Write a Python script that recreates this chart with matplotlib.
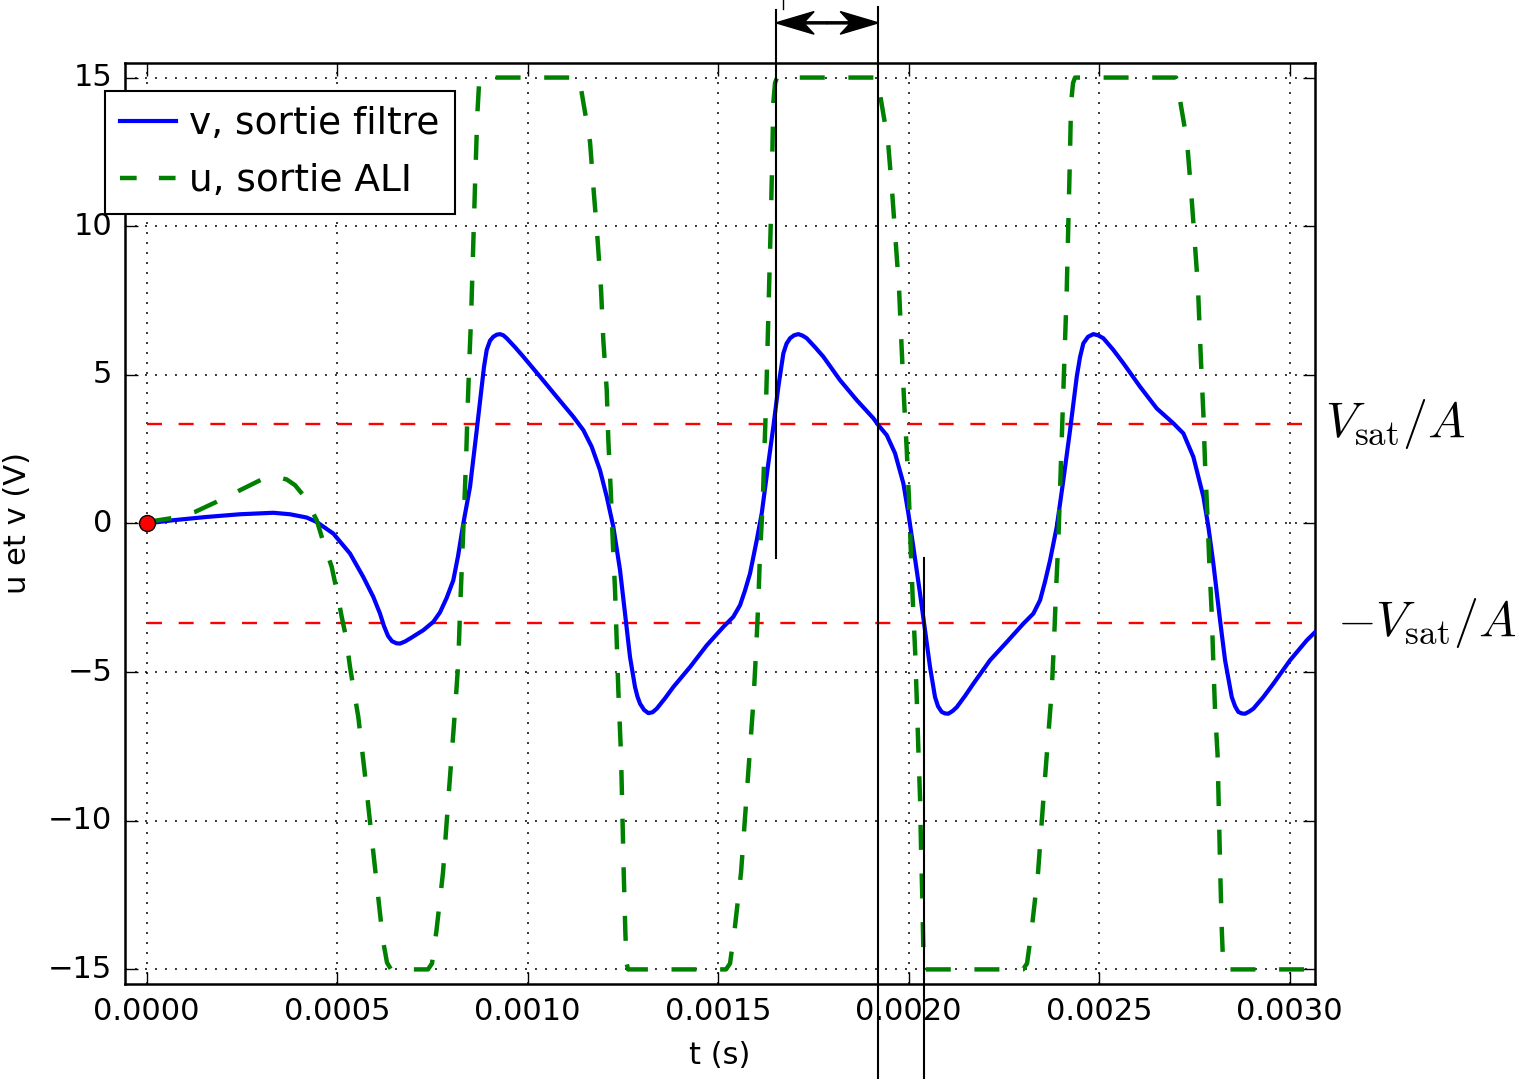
import numpy as np
import matplotlib
matplotlib.use('Agg')
import matplotlib.pyplot as plt
import matplotlib.patches as mpatches
from matplotlib.lines import Line2D

plt.style.use('classic')
plt.rcParams['font.family'] = ['DejaVu Sans']
plt.rcParams['mathtext.fontset'] = 'cm'

# v, sortie filtre : temps en microsecondes, tension en V
t_v_us = [0, 69.8, 157.5, 244.9, 332.3, 376.1, 420.0, 446.2, 489.8, 533.6, 568.5, 594.8,
          612.3, 622.8, 633.3, 643.8, 655.6, 664.8, 678.0, 691.1, 726.0, 752.2, 769.8, 787.4,
          804.7, 817.1, 831.0, 848.6, 866.2, 879.3, 885.3, 892.4, 901.1, 909.7, 918.6, 927.3,
          936.0, 944.9, 966.7, 988.5, 1032.3, 1076.1, 1119.7, 1146.0, 1168.0, 1189.8, 1207.4, 1224.7,
          1242.3, 1255.4, 1268.5, 1281.6, 1288.2, 1294.8, 1305.3, 1316.6, 1327.6, 1338.6, 1360.4, 1382.2,
          1426.0, 1469.8, 1513.4, 1539.6, 1557.2, 1570.4,
          1583.5, 1601.1, 1614.2, 1631.5, 1644.6, 1657.8, 1670.9, 1679.3, 1688.5, 1699.0, 1710.3, 1721.3,
          1732.3, 1754.1, 1775.9, 1819.7, 1863.5, 1907.1, 1920.2, 1942.3, 1964.1, 1985.9, 1999.0, 2012.1,
          2029.7, 2042.8, 2055.9, 2069.0, 2076.9, 2086.6, 2095.3, 2103.9, 2115.0, 2126.0, 2147.8, 2169.6,
          2213.4, 2257.2, 2300.8, 2327.1, 2344.7, 2357.8,
          2370.9, 2388.5, 2405.8, 2423.4, 2441.0, 2449.6, 2458.3, 2470.6, 2484.5, 2496.9, 2510.8, 2536.2,
          2563.3, 2607.1, 2650.9, 2694.5, 2720.8, 2747.0, 2773.3, 2786.4, 2799.5, 2817.1, 2830.2, 2847.8,
          2856.5, 2865.1, 2874.0, 2882.7, 2893.2, 2904.5, 2929.9, 2957.0, 3000.8, 3044.7, 3079.6]
v = [0, 0.11, 0.22, 0.31, 0.36, 0.31, 0.20, 0.05, -0.34, -1.01, -1.80, -2.47,
     -3.03, -3.45, -3.78, -3.96, -4.03, -4.04, -3.97, -3.87, -3.59, -3.31, -2.99, -2.50,
     -1.91, -1.10, 0, 1.23, 3.14, 4.60, 5.27, 5.84, 6.15, 6.28, 6.35, 6.37,
     6.33, 6.23, 5.93, 5.61, 4.94, 4.26, 3.59, 3.14, 2.58, 1.79, 0.90, -0.11,
     -1.57, -3.03, -4.49, -5.50, -5.83, -6.06, -6.27, -6.38, -6.35, -6.23, -5.88, -5.50,
     -4.83, -4.10, -3.48, -3.14, -2.75, -2.25,
     -1.68, -0.56, 0.34, 2.02, 3.25, 4.60, 5.72, 6.05, 6.23, 6.33, 6.37, 6.32,
     6.23, 5.93, 5.61, 4.82, 4.15, 3.54, 3.31, 2.97, 2.36, 1.35, 0.34, -0.79,
     -2.36, -3.59, -4.83, -5.84, -6.15, -6.34, -6.39, -6.40, -6.31, -6.18, -5.80, -5.39,
     -4.60, -3.99, -3.37, -3.03, -2.58, -1.95,
     -1.24, -0.11, 1.46, 3.14, 4.94, 5.60, 6.06, 6.28, 6.37, 6.33, 6.23, 5.85,
     5.39, 4.60, 3.87, 3.37, 3.03, 2.24, 0.90, -0.11, -1.35, -3.26, -4.60, -5.84,
     -6.15, -6.34, -6.39, -6.40, -6.33, -6.23, -5.85, -5.39, -4.60, -3.93, -3.49]

# u, sortie ALI
t_u_us = [0, 61.2, 126.8, 183.7, 244.9, 301.8, 334.1, 367.5, 389.2, 411.0,
          428.6, 446.2, 463.5, 485.6, 498.7, 511.8, 523.1, 533.6, 542.3, 555.4,
          573.0, 591.3, 607.1, 620.2, 630.7, 641.2, 738.3,
          748.8, 760.6, 777.7, 793.4, 809.2, 817.9, 822.3, 827.6, 832.8, 838.1,
          842.0, 846.7, 851.2, 855.7, 861.7, 867.7, 872.2, 877.4, 1134.7,
          1142.5, 1163.5, 1174.0, 1182.7, 1192.4, 1198.4, 1207.4, 1211.6, 1217.9,
          1223.1, 1229.2, 1233.6, 1237.8, 1244.9, 1248.3, 1252.0, 1256.2, 1259.3,
          1263.3, 1520.5,
          1531.0, 1542.8, 1559.9, 1575.6, 1592.2, 1599.2, 1605.2, 1609.7, 1616.8,
          1621.0, 1625.5, 1628.9, 1633.3, 1637.8, 1641.7, 1644.6, 1649.1, 1654.4,
          1916.8,
          1924.7, 1945.7, 1957.0, 1964.8, 1974.6, 1981.6, 1987.7, 1994.8, 2000.8,
          2005.3, 2010.5, 2016.6, 2021.0, 2025.2, 2029.7, 2032.3, 2035.7, 2038.3,
          2041.5, 2300.0,
          2310.5, 2322.3, 2339.4, 2355.1, 2368.3, 2375.4, 2381.4, 2386.6, 2392.7,
          2397.1, 2401.6, 2405.8, 2410.3, 2414.7, 2418.9, 2422.9, 2426.0, 2431.3,
          2436.5, 2701.6,
          2709.5, 2730.5, 2741.8, 2749.6, 2759.3, 2762.8, 2767.2, 2773.3, 2777.7,
          2783.8, 2789.0, 2795.3, 2799.5, 2804.0, 2810.5, 2813.9, 2817.6, 2821.8,
          2825.0, 2828.9, 3079.6]
u = [0.05, 0.17, 0.39, 0.73, 1.12, 1.48, 1.59, 1.48, 1.29, 0.95,
     0.55, 0.11, -0.62, -1.46, -2.25, -3.14, -3.82, -4.83, -5.50, -6.51,
     -8.47, -10.66, -12.51, -14.03, -14.77, -15, -15,
     -14.80, -13.69, -11.74, -8.98, -6.29, -4.65, -2.97, -1.29, 0.40, 2.08,
     3.76, 5.45, 6.85, 8.80, 11.36, 13.75, 14.76, 15, 15,
     14.43, 12.84, 11.05, 9.67, 7.89, 6.17, 4.49, 2.80, 1.12,
     -0.56, -2.25, -3.93, -5.61, -7.77, -9.75, -11.74, -13.73, -14.77,
     -15, -15,
     -14.80, -13.69, -11.74, -8.98, -6.02, -4.33, -2.65, -1.00, 0.68,
     2.37, 4.05, 5.73, 7.86, 10.04, 12.23, 14.15, 14.82, 15,
     15,
     14.43, 12.84, 11.05, 9.67, 7.89, 5.84, 4.15, 2.47, 0.78,
     -0.87, -2.55, -4.23, -5.88, -7.57, -9.25, -10.93, -12.62, -14.30,
     -15, -15,
     -14.80, -13.69, -11.74, -8.98, -6.79, -5.61, -3.93, -2.25, -0.56,
     1.12, 2.80, 4.49, 6.17, 7.86, 10.04, 12.23, 14.15, 14.82,
     15, 15,
     14.43, 12.84, 11.05, 9.67, 7.89, 6.74, 5.40, 3.68, 2.00,
     0.31, -1.37, -3.05, -4.74, -6.32, -7.77, -9.75, -11.74, -13.73,
     -14.77, -15, -15]

vsat_A = 3.333
xticks = [0.0, 0.0005, 0.0010, 0.0015, 0.0020, 0.0025, 0.0030]
xticklabels = ['0.0000', '0.0005', '0.0010', '0.0015', '0.0020', '0.0025', '0.0030']
yticks = [-15, -10, -5, 0, 5, 10, 15]

# repères verticaux (s)
t_a = 0.0016517
t_b = 0.0019202
t_c = 0.0020388

t_v = np.array(t_v_us) * 1e-6
t_u = np.array(t_u_us) * 1e-6

fig = plt.figure(figsize=(15.24, 10.79), dpi=100)
ax = fig.add_axes([0.0820, 0.0878, 0.7808, 0.8541])

ax.plot([0, 0.0032], [vsat_A, vsat_A], color='r', lw=1.7, dashes=(10.8, 12), zorder=2)
ax.plot([0, 0.0032], [-vsat_A, -vsat_A], color='r', lw=1.7, dashes=(10.8, 12), zorder=2)
ax.plot(t_v, v, color='b', lw=3.0, zorder=3, solid_joinstyle='round')
ax.plot(t_u, u, color='g', lw=3.2, dashes=(18, 17), zorder=3)
ax.plot([0], [0], 'o', color='r', mec='k', mew=1, ms=11.5, zorder=5)

# traits verticaux et fleche
ax.plot([t_a, t_a], [17.28, -1.17], color='k', lw=1.5, clip_on=False, zorder=6)
ax.plot([t_b, t_b], [17.36, -18.7], color='k', lw=1.5, clip_on=False, zorder=6)
ax.plot([t_c, t_c], [-1.17, -18.7], color='k', lw=1.5, clip_on=False, zorder=6)
ax.plot([0.0016709, 0.0016709], [17.62, 17.32], color='k', lw=1, clip_on=False)
y_arr = 16.84
t_mid = (t_a + t_b) / 2
for t_end in (t_a, t_b):
    arr = mpatches.FancyArrow(t_mid, y_arr, t_end - t_mid, 0, width=0.07,
                              head_width=0.76, head_length=1.0e-4,
                              length_includes_head=True, overhang=0.25,
                              color='k', clip_on=False, zorder=6)
    ax.add_patch(arr)

ax.text(0.003093, vsat_A, r'$V_{\rm sat}/A$', fontsize=36, va='center', ha='left')
ax.text(0.003124, -vsat_A, r'$-V_{\rm sat}/A$', fontsize=36, va='center', ha='left')

ax.set_xticks(xticks)
ax.set_xticklabels(xticklabels)
ax.set_yticks(yticks)
ax.set_xlim(-5.7e-5, 3.066e-3)
ax.set_ylim(-15.5, 15.5)
ax.tick_params(which='major', direction='in', length=9, width=1, pad=9,
               labelsize=22, top=True, right=True)
ax.grid(True, color='k', linestyle=(0, (1.4, 5.8)), lw=1.1)
ax.set_axisbelow(True)
for s in ax.spines.values():
    s.set_linewidth(1.8)

ax.set_xlabel('t (s)', fontsize=22, labelpad=11)
ax.set_ylabel('u et v (V)', fontsize=22, labelpad=12)

handles = [Line2D([], [], color='b', lw=3.0),
           Line2D([], [], color='g', lw=3.2, linestyle=(0, (12, 16)))]
leg = ax.legend(handles, ['v, sortie filtre', 'u, sortie ALI'], loc='upper left',
                bbox_to_anchor=(105 / 1524, 1 - 91 / 1079), bbox_transform=fig.transFigure,
                borderaxespad=0, fontsize=27, handlelength=1.5, handletextpad=0.35,
                borderpad=0.4, labelspacing=0.56, fancybox=False, numpoints=1)
leg.get_frame().set_linewidth(1.5)
leg.get_frame().set_edgecolor('k')

fig.savefig('out.png', dpi=100, facecolor='white')
